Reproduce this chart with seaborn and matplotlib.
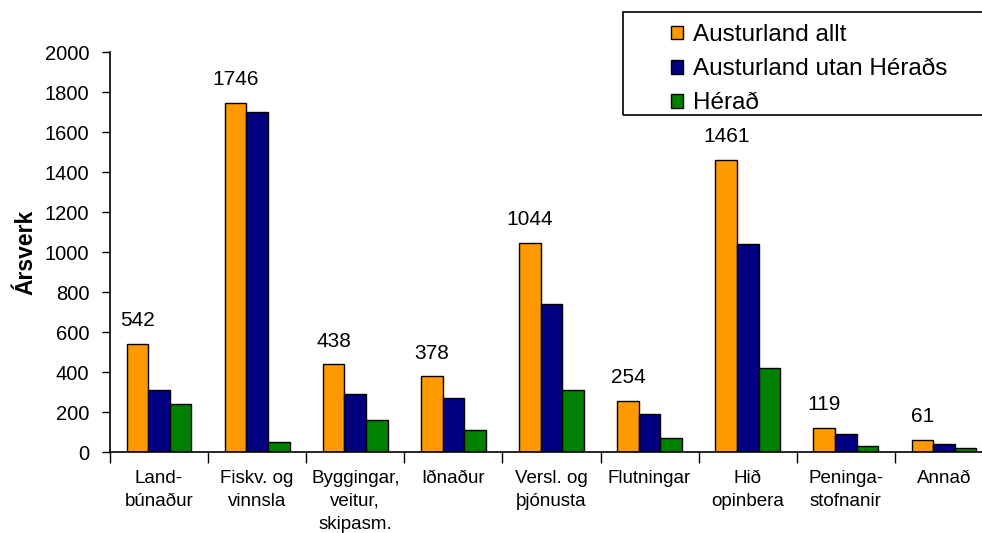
import matplotlib
matplotlib.use("Agg")
from matplotlib import pyplot as plt
from matplotlib.patches import Rectangle
import numpy as np
import pandas as pd
import seaborn as sns

CATEGORIES = ['Land-\nbúnaður', 'Fiskv. og\nvinnsla', 'Byggingar,\nveitur,\nskipasm.',
              'Iðnaður', 'Versl. og\nþjónusta', 'Flutningar', 'Hið\nopinbera',
              'Peninga-\nstofnanir', 'Annað']
SERIES = ['Austurland allt', 'Austurland utan Héraðs', 'Hérað']
AUSTURLAND_ALLT = [542, 1746, 438, 378, 1044, 254, 1461, 119, 61]
UTAN_HERADS = [310, 1700, 290, 270, 740, 190, 1040, 90, 40]
HERAD = [240, 50, 160, 110, 310, 70, 420, 30, 20]
COLORS = ['#FF9900', '#000080', '#008000']

rows = []
for name, vals in zip(SERIES, [AUSTURLAND_ALLT, UTAN_HERADS, HERAD]):
    for cat, v in zip(CATEGORIES, vals):
        rows.append([cat, v, name])
df = pd.DataFrame(rows, columns=['Grein', 'Ársverk', 'Svæði'])

sns.set_theme(style='white')
plt.rcParams['font.family'] = ['Liberation Sans', 'DejaVu Sans']
plt.rcParams['text.color'] = 'black'
plt.rcParams['xtick.color'] = 'black'
plt.rcParams['ytick.color'] = 'black'
plt.rcParams['axes.labelcolor'] = 'black'

fig = plt.figure(figsize=(9.82, 5.33), dpi=100)
W, H = 982, 533
ax = fig.add_axes([110 / W, (H - 452) / H, (993 - 110) / W, 400 / H])

sns.barplot(data=df, x='Grein', y='Ársverk', hue='Svæði', order=CATEGORIES,
            hue_order=SERIES, palette=COLORS, width=0.66, edgecolor='black',
            linewidth=1, saturation=1, ax=ax)

ax.set_ylim(0, 2000)
ax.set_xlim(-0.5, len(CATEGORIES) - 0.5)
ax.set_yticks(np.arange(0, 2001, 200))
ax.tick_params(axis='y', labelsize=14.5, length=6, width=1, direction='out',
               color='black', left=True, pad=9)
ax.set_xticks(np.arange(len(CATEGORIES) + 1) - 0.5, labels=[''] * (len(CATEGORIES) + 1))
ax.set_xticks(np.arange(len(CATEGORIES)), labels=CATEGORIES, minor=True)
ax.tick_params(axis='x', which='major', length=8, width=1, direction='out',
               color='black', bottom=True)
ax.tick_params(axis='x', which='minor', length=0, labelsize=13.5, pad=13)
for t in ax.get_xticklabels(minor=True):
    t.set_linespacing(1.45)
    t.set_verticalalignment('top')
ax.set_xlabel('')
ax.set_ylabel('Ársverk', fontsize=16.5, fontweight='bold', labelpad=5)
for s in ['top', 'right']:
    ax.spines[s].set_visible(False)
for s in ['left', 'bottom']:
    ax.spines[s].set_color('black')
    ax.spines[s].set_linewidth(1.2)

# value labels over the first series
for i, v in enumerate(AUSTURLAND_ALLT):
    ax.annotate(str(v), (i - 0.22, v), xytext=(0, 10), textcoords='offset points',
                ha='center', va='bottom', fontsize=15)

handles, labels = ax.get_legend_handles_labels()
ax.get_legend().remove()
fig.patches.append(Rectangle((623 / W, 1 - 115 / H), 400 / W, 103 / H,
                             transform=fig.transFigure, fill=False,
                             edgecolor='black', linewidth=1.2))
fig.legend(handles, labels, loc='upper left', bbox_to_anchor=(659 / W, 1 - 12 / H),
           frameon=False, fontsize=17.5, handlelength=0.5, handleheight=0.5,
           handletextpad=0.4, labelspacing=0.5, borderpad=0)

fig.savefig('out.png', dpi=100)
